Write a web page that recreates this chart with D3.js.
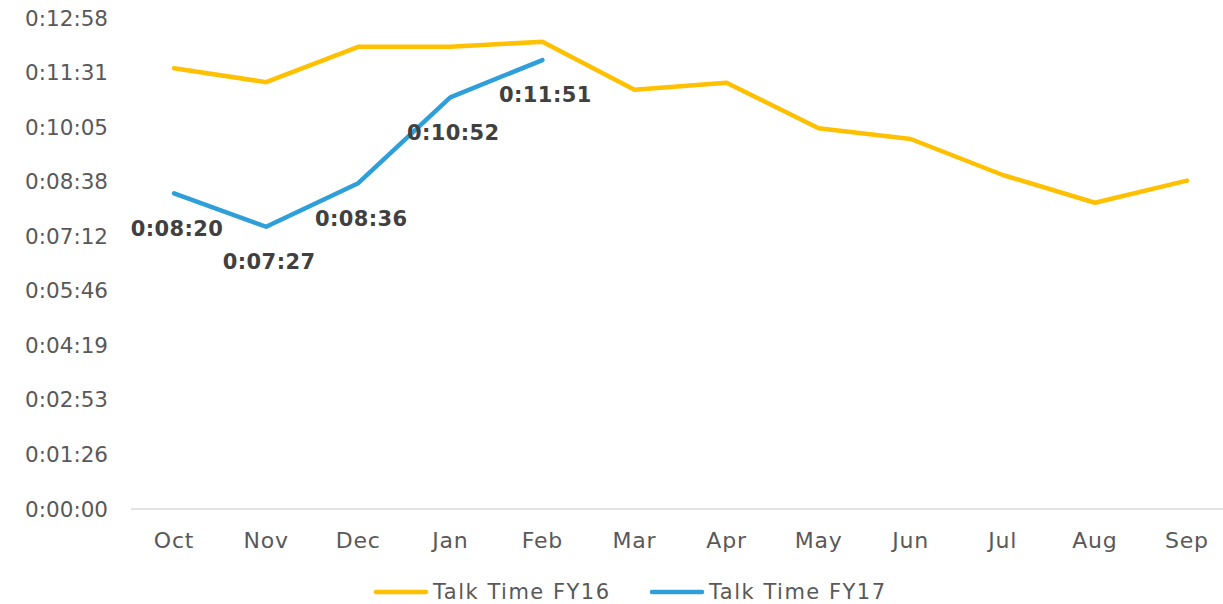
<!DOCTYPE html>
<html>
<head>
<meta charset="utf-8">
<script src="https://cdn.jsdelivr.net/npm/d3@7"></script>
<style>
  body { margin: 0; background: #fff; }
  svg { display: block; font-family: "DejaVu Sans", sans-serif; }
</style>
</head>
<body>
<div id="chart"></div>
<script>
// months of the fiscal year
let months = ["Oct", "Nov", "Dec", "Jan", "Feb", "Mar", "Apr", "May", "Jun", "Jul", "Aug", "Sep"]
// talk time in seconds
let fy16 = [698, 676, 732, 732, 740, 664, 675, 603, 586, 529, 485, 520]
let fy17 = [500, 447, 516, 652, 711]
// y ticks in seconds (0.001 day steps)
let yTicks = [0, 86.4, 172.8, 259.2, 345.6, 432, 518.4, 604.8, 691.2, 777.6]
let seriesNames = ["Talk Time FY16", "Talk Time FY17"]
let colors = ["#FFC000", "#2F9FDA"]

function fmt(s) {
  s = Math.round(s)
  let h = Math.floor(s / 3600), m = Math.floor((s % 3600) / 60), sec = s % 60
  return h + ":" + String(m).padStart(2, "0") + ":" + String(sec).padStart(2, "0")
}

let W = 1223, H = 604
let svg = d3.select("#chart").append("svg").attr("width", W).attr("height", H)

let x = d3.scaleBand().domain(months).range([128, 1233])
let y = d3.scaleLinear().domain([0, 777.6]).range([509, 18])
let cx = d => x(d) + x.bandwidth() / 2

// y labels
svg.append("g").selectAll("text").data(yTicks).join("text")
  .attr("x", 108).attr("y", d => y(d)).attr("dy", "0.35em")
  .attr("text-anchor", "end")
  .attr("fill", "#595959").attr("font-size", 21.5)
  .text(fmt)

// baseline
svg.append("line")
  .attr("x1", 131).attr("x2", W).attr("y1", y(0)).attr("y2", y(0))
  .attr("stroke", "#d9d9d9").attr("stroke-width", 1.5)

// x labels
svg.append("g").selectAll("text").data(months).join("text")
  .attr("x", cx).attr("y", 540).attr("dy", "0.35em")
  .attr("text-anchor", "middle")
  .attr("fill", "#595959").attr("font-size", 22).attr("letter-spacing", 0.8)
  .text(d => d)

let line = d3.line().x((d, i) => cx(months[i])).y(d => y(d))

;[fy16, fy17].forEach(function(vals, k) {
  svg.append("path").datum(vals)
    .attr("d", line)
    .attr("fill", "none")
    .attr("stroke", colors[k]).attr("stroke-width", 4.5)
    .attr("stroke-linecap", "round").attr("stroke-linejoin", "round")
})

// data labels for FY17
svg.append("g").selectAll("text").data(fy17).join("text")
  .attr("x", (d, i) => cx(months[i]) + 3)
  .attr("y", d => y(d) + 35).attr("dy", "0.35em")
  .attr("text-anchor", "middle")
  .attr("fill", "#404040").attr("font-size", 21).attr("font-weight", "bold")
  .attr("letter-spacing", 0.4)
  .text(fmt)

// legend
let legendX = [376, 652]
seriesNames.forEach(function(name, k) {
  let g = svg.append("g").attr("transform", "translate(" + legendX[k] + ",592)")
  g.append("line").attr("x1", 0).attr("x2", 50)
    .attr("stroke", colors[k]).attr("stroke-width", 4.5).attr("stroke-linecap", "round")
  g.append("text").attr("x", 57).attr("dy", "0.35em")
    .attr("fill", "#595959").attr("font-size", 21).attr("letter-spacing", 1.5)
    .text(name)
})
</script>
</body>
</html>
